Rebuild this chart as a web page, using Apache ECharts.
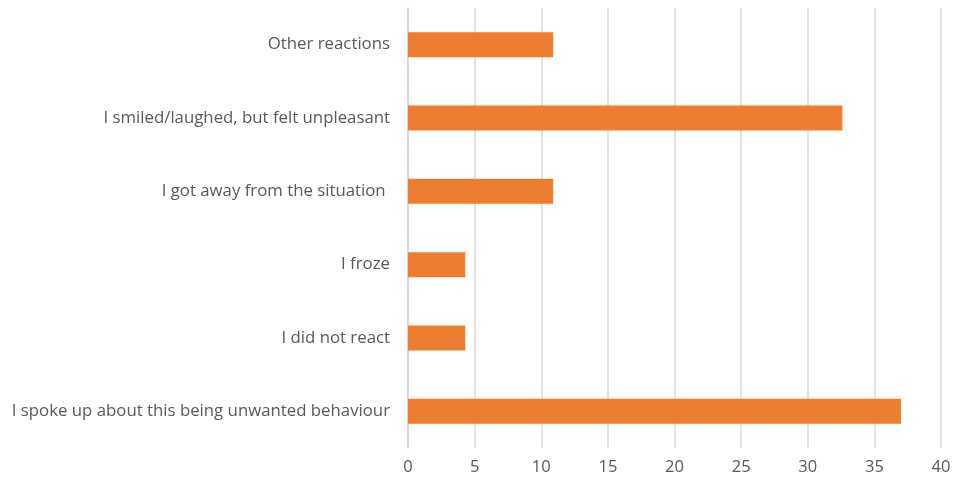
<!DOCTYPE html>
<html>
<head>
<meta charset="utf-8">
<script src="https://cdn.jsdelivr.net/npm/echarts@6/dist/echarts.min.js"></script>
<style>
  html, body { margin: 0; padding: 0; background: #ffffff; }
  #chart { width: 954px; height: 481px; }
</style>
</head>
<body>
<div id="chart"></div>
<script>
// Reactions, listed bottom to top as drawn on the category axis
const categories = [
  'I spoke up about this being unwanted behaviour',
  'I did not react',
  'I froze',
  'I got away from the situation ',
  'I smiled/laughed, but felt unpleasant',
  'Other reactions'
];
const values = [37.0, 4.3, 4.3, 10.9, 32.6, 10.9];
const xTicks = [0, 5, 10, 15, 20, 25, 30, 35, 40];

const chart = echarts.init(document.getElementById('chart'), null, { renderer: 'canvas' });
const font = 'Open Sans';

chart.setOption({
  animation: false,
  backgroundColor: '#ffffff',
  grid: { left: 408, right: 13, top: 8, bottom: 33, containLabel: false },
  xAxis: {
    type: 'value',
    min: xTicks[0],
    max: xTicks[xTicks.length - 1],
    interval: 5,
    axisLine: { show: false },
    axisTick: { show: false },
    splitLine: { show: true, lineStyle: { color: '#d9d9d9', width: 1.5 } },
    axisLabel: { color: '#595959', fontFamily: font, fontSize: 16.5, margin: 11 }
  },
  yAxis: {
    type: 'category',
    data: categories,
    axisLine: { show: true, lineStyle: { color: '#d9d9d9', width: 1.5 } },
    axisTick: { show: false },
    axisLabel: { color: '#595959', fontFamily: font, fontSize: 16.8, margin: 18 }
  },
  series: [{
    type: 'bar',
    data: values,
    barWidth: 25,
    itemStyle: { color: '#ED7D31' }
  }]
});
</script>
</body>
</html>
